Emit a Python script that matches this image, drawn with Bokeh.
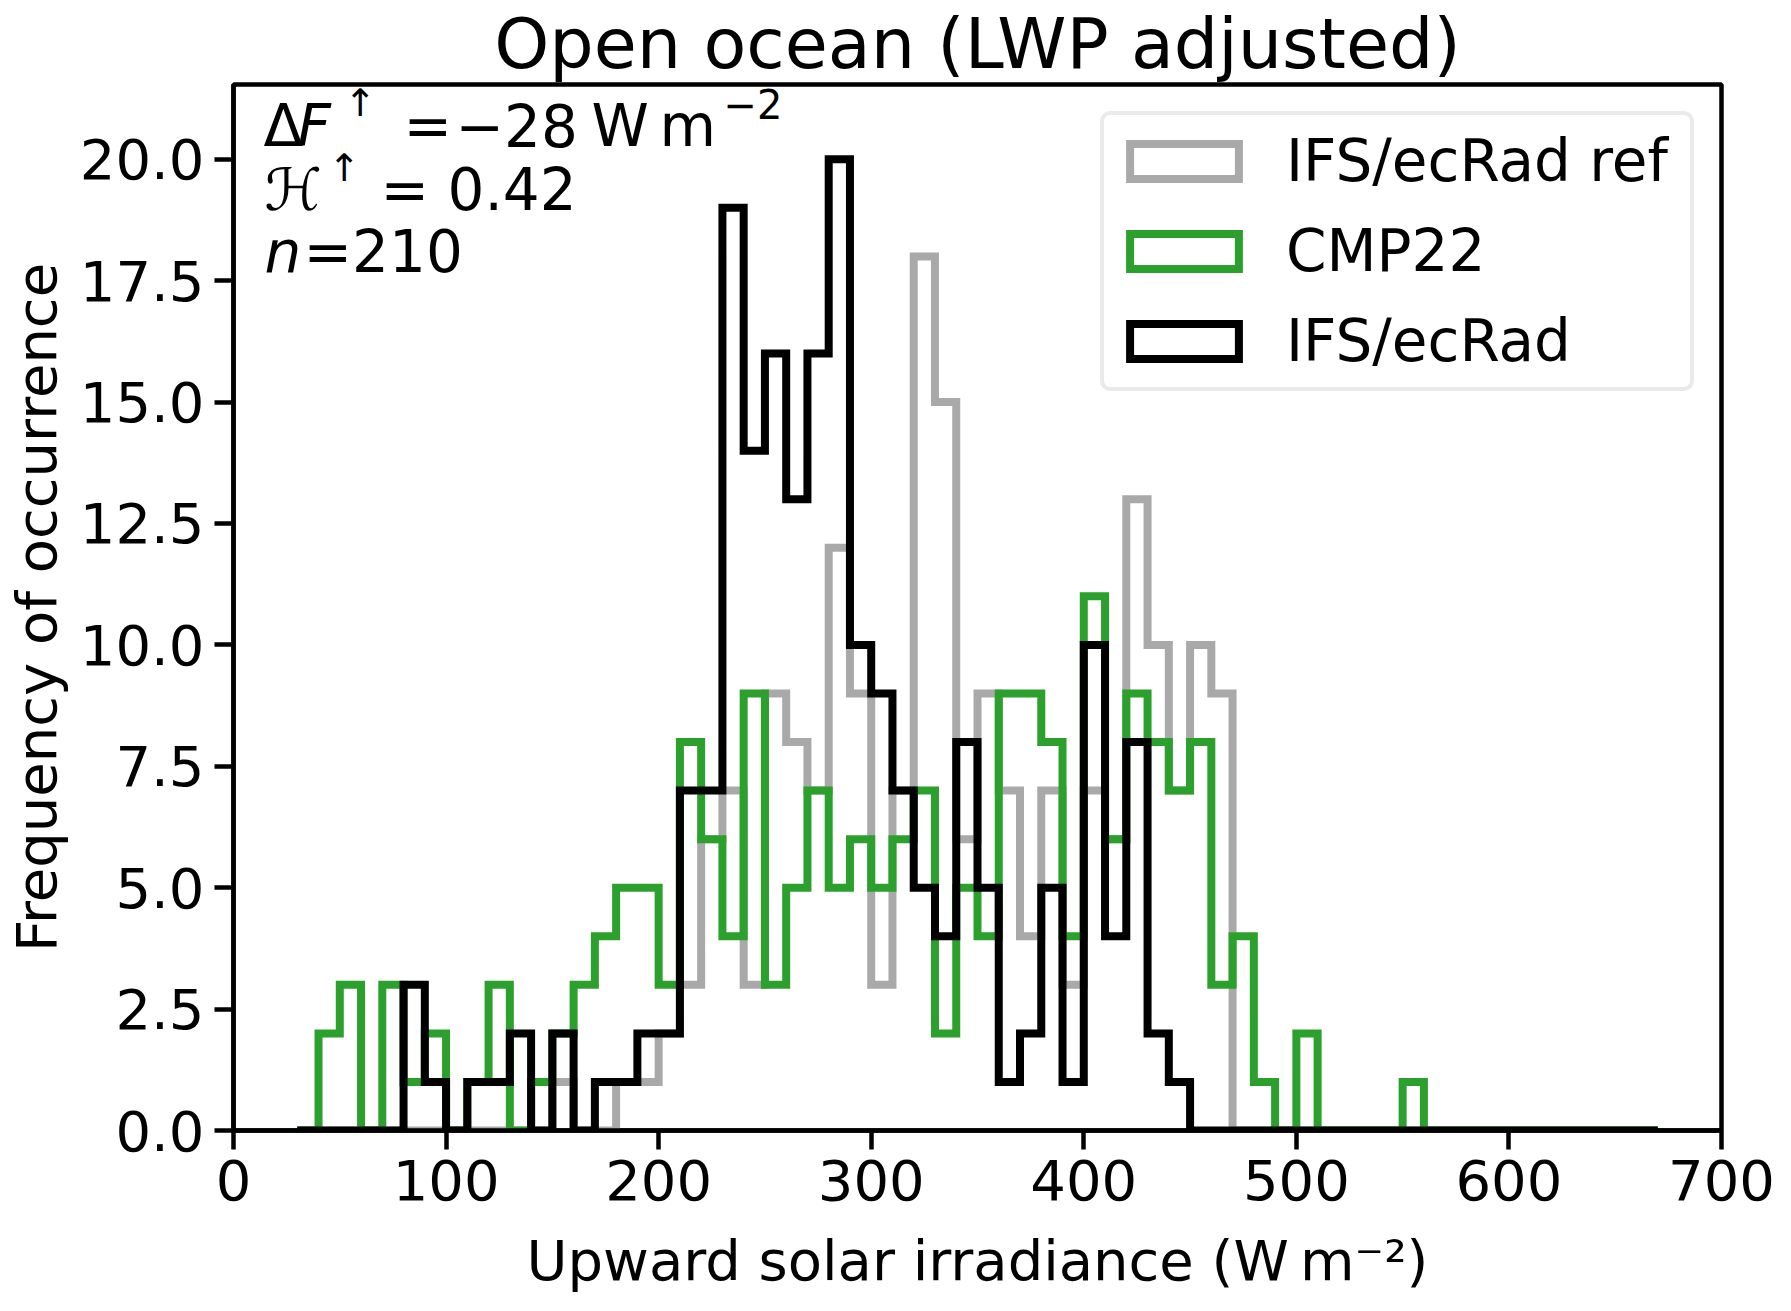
import numpy as np
from bokeh.plotting import figure
from bokeh.models import (FixedTicker, PrintfTickFormatter, Label, Legend,
                          LegendItem, Range1d)
from bokeh.embed import file_html
from bokeh.resources import INLINE

# ---------------- data ----------------
bin_start = 30
bin_width = 10
n_bins = 64

# IFS/ecRad ref (grey)
ref_counts = [0, 0, 0, 0, 0, 0, 0, 0, 0, 0,
              0, 0, 1, 0, 0, 1, 1, 2, 3, 6,
              7, 3, 9, 8, 7, 12, 9, 3, 7, 18,
              15, 6, 9, 7, 4, 7, 3, 7, 6, 13,
              10, 7, 10, 9, 0, 0, 0, 0, 0, 0,
              0, 0, 0, 0, 0, 0, 0, 0, 0, 0,
              0, 0, 0, 0]
# CMP22 (green)
cmp22_counts = [0, 2, 3, 0, 3, 1, 2, 0, 1, 3,
                0, 1, 2, 3, 4, 5, 5, 3, 8, 6,
                4, 9, 3, 5, 7, 5, 6, 5, 6, 7,
                2, 5, 4, 9, 9, 8, 4, 11, 6, 9,
                8, 7, 8, 3, 4, 1, 0, 2, 0, 0,
                0, 0, 1, 0, 0, 0, 0, 0, 0, 0,
                0, 0, 0, 0]
# IFS/ecRad (black)
ifs_counts = [0, 0, 0, 0, 0, 3, 1, 0, 1, 1,
              2, 0, 2, 0, 1, 1, 2, 2, 7, 7,
              19, 14, 16, 13, 16, 20, 10, 9, 7, 5,
              4, 8, 5, 1, 2, 5, 1, 10, 4, 8,
              2, 1, 0, 0, 0, 0, 0, 0, 0, 0,
              0, 0, 0, 0, 0, 0, 0, 0, 0, 0,
              0, 0, 0, 0]

series_labels = ["IFS/ecRad ref", "CMP22", "IFS/ecRad"]
series_colors = ["#a9a9a9", "#2ca02c", "#000000"]

x_ticks = [0, 100, 200, 300, 400, 500, 600, 700]
y_ticks = [0.0, 2.5, 5.0, 7.5, 10.0, 12.5, 15.0, 17.5, 20.0]

title_text = "Open ocean (LWP adjusted)"
x_label = "Upward solar irradiance (W\u2009m\u207b\u00b2)"
y_label = "Frequency of occurrence"

FONT = "DejaVu Sans"
FS = "56px"
LW = 8

# ---------------- figure ----------------
p = figure(width=1775, height=1295,
           x_range=Range1d(0, 700), y_range=Range1d(0, 21.54),
           output_backend="svg", toolbar_location=None,
           min_border_left=232, min_border_right=54,
           min_border_top=77, min_border_bottom=164)

p.title.text = title_text
p.title.align = "center"
p.title.text_font = FONT
p.title.text_font_size = "70px"
p.title.text_font_style = "normal"
p.title.text_color = "black"
p.title.standoff = 0

p.xgrid.visible = False
p.ygrid.visible = False
p.outline_line_color = "black"
p.outline_line_width = 4.5
p.background_fill_color = "white"
p.border_fill_color = "white"

for ax in (p.xaxis[0], p.yaxis[0]):
    ax.axis_line_width = 4.5
    ax.axis_line_color = "black"
    ax.major_tick_line_width = 4.5
    ax.major_tick_line_color = "black"
    ax.major_tick_out = 19
    ax.major_tick_in = 0
    ax.minor_tick_out = 0
    ax.minor_tick_in = 0
    ax.major_label_text_font = FONT
    ax.major_label_text_font_size = FS
    ax.major_label_text_color = "black"
    ax.axis_label_text_font = FONT
    ax.axis_label_text_font_size = FS
    ax.axis_label_text_font_style = "normal"
    ax.axis_label_text_color = "black"

p.xaxis.ticker = FixedTicker(ticks=x_ticks)
p.yaxis.ticker = FixedTicker(ticks=y_ticks)
p.yaxis.formatter = PrintfTickFormatter(format="%.1f")
p.xaxis.axis_label = x_label
p.yaxis.axis_label = y_label
p.xaxis.major_label_standoff = 10
p.xaxis.axis_label_standoff = 25
p.yaxis.major_label_standoff = 10
p.yaxis.axis_label_standoff = 8

edges = bin_start + bin_width * np.arange(n_bins + 1)

items = []
for counts, lab, col in zip([ref_counts, cmp22_counts, ifs_counts],
                            series_labels, series_colors):
    c = np.asarray(counts, dtype=float)
    xs = np.repeat(edges, 2)
    ys = np.concatenate([[0.0], np.repeat(c, 2), [0.0]])
    p.line(xs, ys, line_color=col, line_width=LW, line_join="miter",
           line_cap="butt")
    # hidden bar renderer of the same histogram: gives the legend its
    # outlined-rectangle symbol
    r = p.quad(left=edges[:-1], right=edges[1:], bottom=0, top=c,
               fill_alpha=0, line_color=col, line_width=LW,
               line_join="miter", visible=False)
    items.append(LegendItem(label=lab, renderers=[r]))

legend = Legend(items=items, location="top_right", click_policy="none",
                label_text_font=FONT, label_text_font_size="58px",
                label_text_color="black",
                glyph_width=136, glyph_height=44, label_standoff=34,
                label_width=392,
                spacing=22, padding=12, margin=27, label_height=44,
                border_line_color="#d6d6d6", border_line_width=4,
                border_radius=10, background_fill_alpha=0.8,
                inactive_fill_alpha=0.0)
p.add_layout(legend)

# ---------------- annotation text, screen units inside the frame ----------
AFS = "58px"


def lab(text, x, y, size=AFS, style="normal"):
    p.add_layout(Label(x=x, y=y, x_units="screen", y_units="screen",
                       text=text, text_font=FONT, text_font_size=size,
                       text_font_style=style, text_baseline="alphabetic",
                       text_align="left", text_color="black"))


# line 1
lab("\u0394", 30, 1005)
lab("F", 64, 1005, style="italic")
lab("\u2191", 111, 1028, size="38px")
lab("=", 170, 1005)
lab("\u221228", 222, 1005)
lab("W", 358, 1005)
lab("m", 426, 1005)
lab("\u22122", 490, 1027, size="40px")
# line 2
lab("\u210b", 31, 941, style="italic")
lab("\u2191", 95, 963, size="38px")
lab("= 0.42", 147, 941)
# line 3
lab("n", 31, 879, style="italic")
lab("=210", 70, 879)

open("out.html", "w").write(file_html(p, INLINE))
